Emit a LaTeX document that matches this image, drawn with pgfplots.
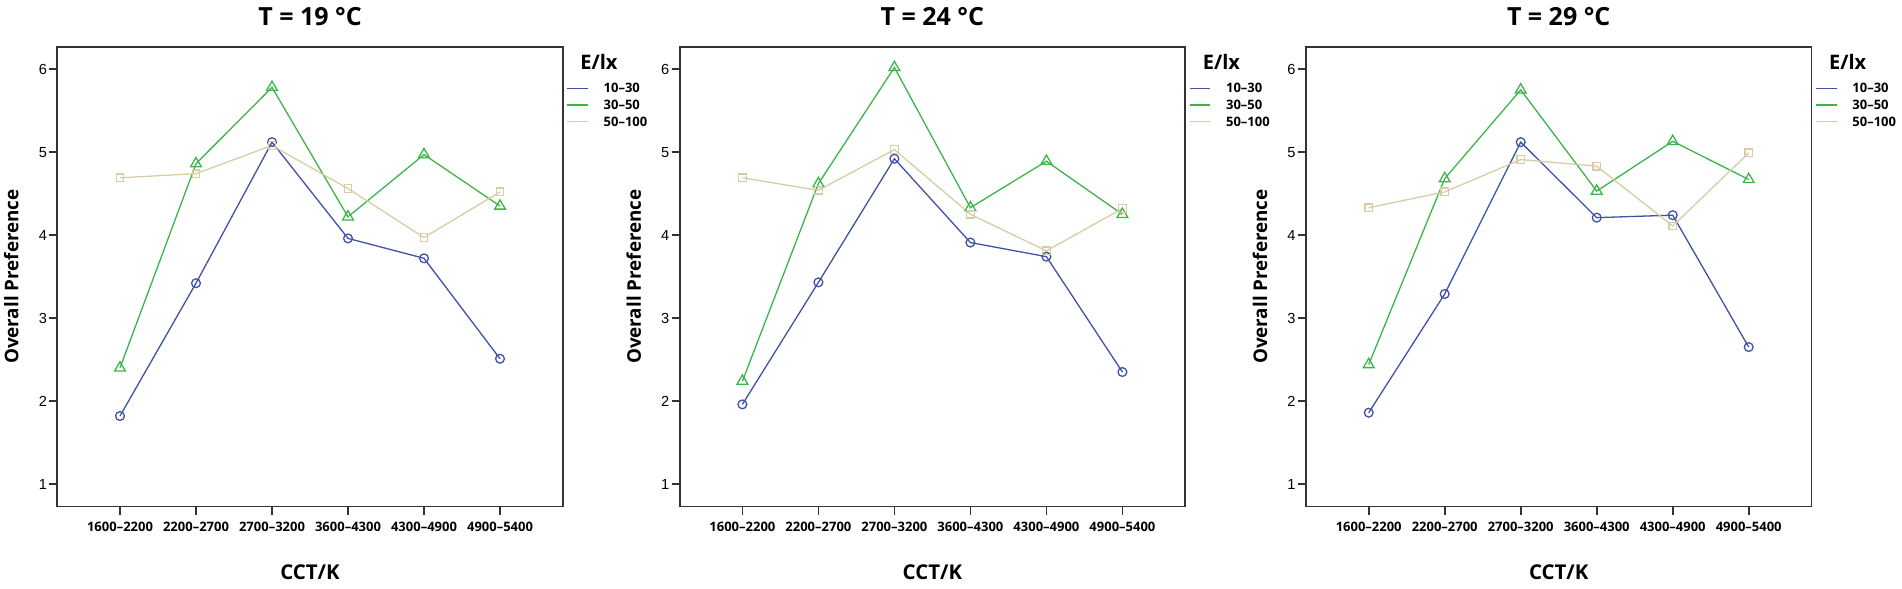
\documentclass[border=0pt]{standalone}
\usepackage{fontspec}
\setmainfont{Open Sans}
\newfontfamily\tickfont{Liberation Sans}
\usepackage{pgfplots}
\pgfplotsset{compat=1.18}
\definecolor{cblue}{HTML}{4152A6}
\definecolor{cgreen}{HTML}{3CB54A}
\definecolor{cbeige}{HTML}{D6CDA4}
\definecolor{frame}{HTML}{333333}

\pgfplotstableread{
x b g y
0 1.82 2.40 4.69
1 3.42 4.86 4.74
2 5.12 5.78 5.08
3 3.96 4.22 4.56
4 3.72 4.97 3.97
5 2.51 4.35 4.52
}\tabA
\pgfplotstableread{
x b g y
0 1.96 2.24 4.69
1 3.43 4.62 4.54
2 4.92 6.02 5.03
3 3.91 4.33 4.25
4 3.74 4.89 3.81
5 2.35 4.25 4.32
}\tabB
\pgfplotstableread{
x b g y
0 1.86 2.44 4.33
1 3.29 4.68 4.52
2 5.12 5.75 4.91
3 4.21 4.53 4.83
4 4.24 5.13 4.11
5 2.65 4.67 4.99
}\tabC

\pgfplotsset{
 panel/.style={
  scale only axis, width=252.7pt, height=230pt,
  anchor=south west,
  xmin=-0.825, xmax=5.825, ymin=0.727, ymax=6.27,
  xtick={0,...,5},
  xticklabels={1600–2200,2200–2700,2700–3200,3600–4300,4300–4900,4900–5400},
  ytick={1,...,6},
  tick align=outside, major tick length=4pt,
  xtick pos=bottom, ytick pos=left,
  axis line style={frame, line width=0.8pt},
  tick style={frame, line width=0.8pt},
  /pgf/number format/assume math mode=true,
  yticklabel style={font=\tickfont\fontsize{7.3}{8}\selectfont, inner sep=1pt},
  xticklabel style={font=\bfseries\fontsize{6.5}{7.5}\selectfont},
  every axis title/.style={at={(axis description cs:0.5,1)}, anchor=center, yshift=14.85pt, font=\bfseries\fontsize{12.5}{14}\selectfont},
  xlabel={CCT/K},
  xlabel style={at={([yshift=-33pt]axis description cs:0.5,0)}, anchor=center, font=\bfseries\fontsize{10.2}{12}\selectfont},
  ylabel={Overall Preference},
  every axis y label/.style={at={([xshift=-23pt]axis description cs:0,0.5)}, rotate=90, anchor=center, font=\bfseries\fontsize{9.4}{11}\selectfont},
  clip=false,
  legend cell align=left,
  legend image code/.code={\draw[#1] (0pt,0pt) -- (10.3pt,0pt);},
  legend style={at={([xshift=1.85pt,yshift=-18.35pt]axis description cs:1,1)}, anchor=north west,
    draw=none, fill=none, inner sep=0pt, row sep=3.65pt, column sep=7.5pt,
    font=\bfseries\fontsize{6.5}{7.5}\selectfont,
    nodes={inner sep=0pt, text height=4.6pt, text depth=0pt}},
 },
 sb/.style={cblue, line width=0.65pt, mark=o, mark size=2.2pt, mark options={solid}},
 sg/.style={cgreen, line width=0.65pt, mark=triangle, mark size=3.1pt, mark options={solid}},
 sy/.style={cbeige, line width=0.65pt, mark=square, mark size=1.9pt, mark options={solid}},
}

\newcommand{\legtitle}{\node[anchor=west, inner sep=0pt, font=\bfseries\fontsize{10}{12}\selectfont] at ([xshift=8.65pt,yshift=-7.65pt]axis description cs:1,1) {E/lx};}

\begin{document}
\begin{tikzpicture}
\path[use as bounding box] (0,0) rectangle (951pt,294.5pt);

\begin{axis}[panel, at={(28.65pt,41.15pt)}, title={T = 19 °C}]
\addplot[sb] table[x=x,y=b] {\tabA};
\addplot[sg] table[x=x,y=g] {\tabA};
\addplot[sy] table[x=x,y=y] {\tabA};
\legend{10–30,30–50,50–100}
\legtitle
\end{axis}

\begin{axis}[panel, at={(339.85pt,41.15pt)}, title={T = 24 °C}]
\addplot[sb] table[x=x,y=b] {\tabB};
\addplot[sg] table[x=x,y=g] {\tabB};
\addplot[sy] table[x=x,y=y] {\tabB};
\legend{10–30,30–50,50–100}
\legtitle
\end{axis}

\begin{axis}[panel, at={(653pt,41.15pt)}, title={T = 29 °C}]
\addplot[sb] table[x=x,y=b] {\tabC};
\addplot[sg] table[x=x,y=g] {\tabC};
\addplot[sy] table[x=x,y=y] {\tabC};
\legend{10–30,30–50,50–100}
\legtitle
\end{axis}
\end{tikzpicture}
\end{document}
